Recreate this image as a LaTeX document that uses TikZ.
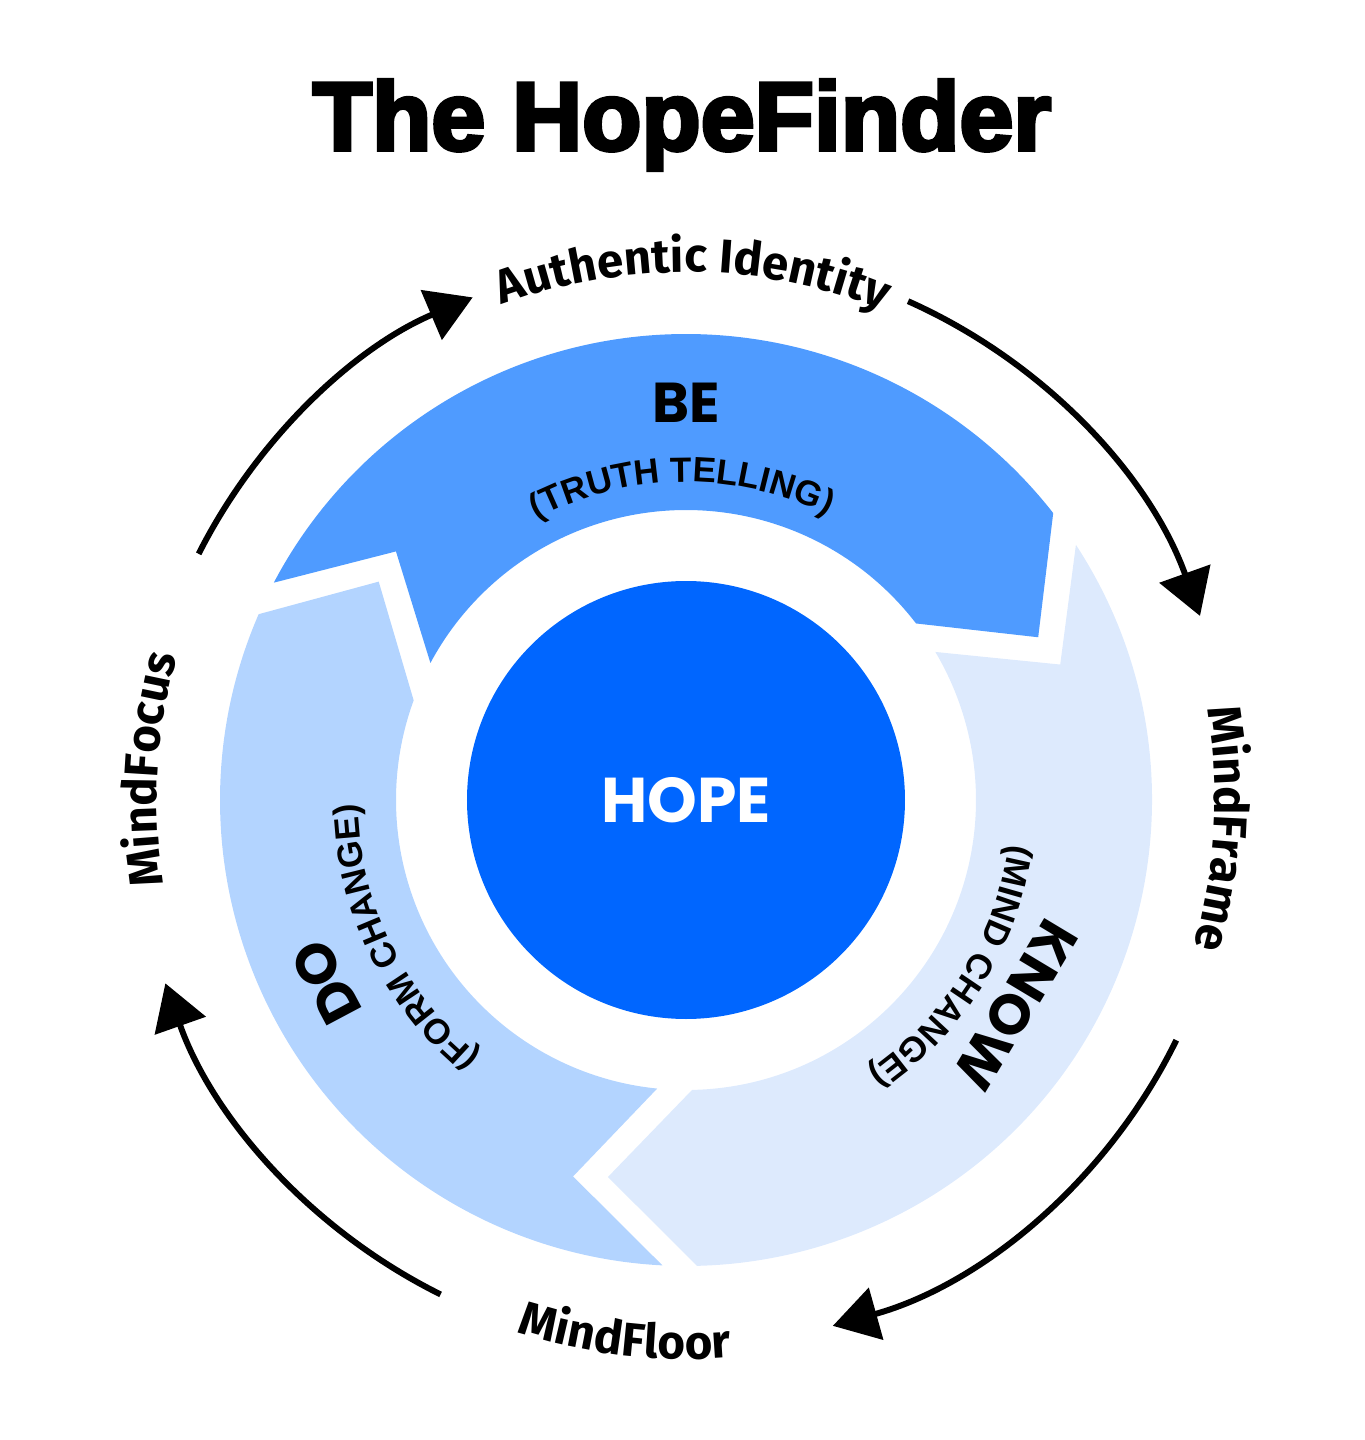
\documentclass[tikz,border=0pt]{standalone}
\usepackage{fontspec}
\setmainfont{Fira Sans}
\newfontfamily\popfont{Poppins}
\newfontfamily\libfont{Liberation Sans}
\newfontfamily\titlefont[FakeBold=4]{Liberation Sans Bold}
\usepackage{tikz}
\usepackage{xcolor}
\usetikzlibrary{arrows.meta, decorations.text}
\definecolor{becol}{HTML}{4F9BFF}
\definecolor{docol}{HTML}{B3D4FF}
\definecolor{knowcol}{HTML}{DDEAFD}
\definecolor{hopecol}{HTML}{0066FF}
\newcommand{\outerfont}{\fontsize{13.5pt}{16pt}\selectfont\bfseries}
\newcommand{\smallfont}{\fontsize{10pt}{12pt}\selectfont\libfont\bfseries}
\tikzstyle{arrow} = [line width=1.7pt, -{Triangle[length=4.5mm, width=5.3mm]}]
\tikzstyle{big} = [inner sep=0pt, font=\fontsize{16pt}{18pt}\selectfont\popfont\bfseries]

\begin{document}
\begin{tikzpicture}
    \useasboundingbox (-6.86,-6.40) rectangle (6.78,8.00);
    \node (title) [anchor=base, font=\fontsize{27.6pt}{30pt}\selectfont\titlefont] at (-0.04,6.50) {The HopeFinder};

    % ring segments
    \fill[becol] (152.2:4.66) arc[start angle=152.2, end angle=38.0, radius=4.66] -- (24.8:3.88) -- (37.5:2.90) arc[start angle=37.5, end angle=151.8, radius=2.90] -- (139.4:3.82) -- cycle;
    \fill[knowcol] (33.2:4.66) arc[start angle=33.2, end angle=-88.65, radius=4.66] -- (-101.7:3.85) -- (-88.8:2.90) arc[start angle=-88.8, end angle=30.7, radius=2.90] -- (19.9:3.98) -- cycle;
    \fill[docol] (267.1:4.66) arc[start angle=267.1, end angle=156.5, radius=4.66] -- (144.6:3.77) -- (159.9:2.90) arc[start angle=159.9, end angle=264.3, radius=2.90] -- (253.3:3.93) -- cycle;

    \node (hope) [circle, fill=hopecol, minimum size=4.38cm, text=white, font=\fontsize{18pt}{20pt}\selectfont\popfont\bfseries] at (0,0) {HOPE};
    \node (be) [big] at (0,3.97) {BE};
    \node (do) [big, rotate=118] at (-3.60,-1.82) {DO};
    \node (know) [big, rotate=-121] at (3.30,-2.05) {KNOW};

    % curved texts
    \path[decorate, decoration={text along path, text align=center, text={|\smallfont|(TRUTH TELLING)}}] (130.8:3.18) arc[start angle=130.8, end angle=50.8, radius=3.18];
    \path[decorate, decoration={text along path, text align=center, text={|\smallfont|(FORM CHANGE)}}] (246:3.28) arc[start angle=246, end angle=166, radius=3.28];
    \path[decorate, decoration={text along path, text align=center, text={|\smallfont|(MIND CHANGE)}}] (8:3.26) arc[start angle=8, end angle=-72, radius=3.26];

    \path[decorate, decoration={text along path, text align=center, text={|\outerfont|Authentic Identity}}] (124.2:5.28) arc[start angle=124.2, end angle=54.2, radius=5.28];
    \path[decorate, decoration={text along path, text align=center, text={|\outerfont|MindFrame}}] (36.9:5.29) arc[start angle=36.9, end angle=-43.1, radius=5.29];
    \path[decorate, decoration={text along path, text align=center, text={|\outerfont|MindFocus}}] (216.7:5.29) arc[start angle=216.7, end angle=136.7, radius=5.29];
    \path[decorate, decoration={text along path, text align=center, text={|\outerfont|MindFloor}}] (-136.5:5.59) arc[start angle=-136.5, end angle=-56.5, radius=5.59];

    % outer arrows
    \coordinate (f1) at (153.2:5.46);
    \coordinate (f2) at (66.0:5.46);
    \coordinate (f3) at (-26.1:5.46);
    \coordinate (f4) at (-116.4:5.52);
    \draw[arrow] (f1) arc[start angle=153.2, end angle=113.0, radius=5.46];
    \draw[arrow] (f2) arc[start angle=66.0, end angle=19.7, radius=5.46];
    \draw[arrow] (f3) arc[start angle=-26.1, end angle=-74.4, radius=5.46];
    \draw[arrow] (f4) arc[start angle=-116.4, end angle=-160.6, radius=5.52];
\end{tikzpicture}
\end{document}
